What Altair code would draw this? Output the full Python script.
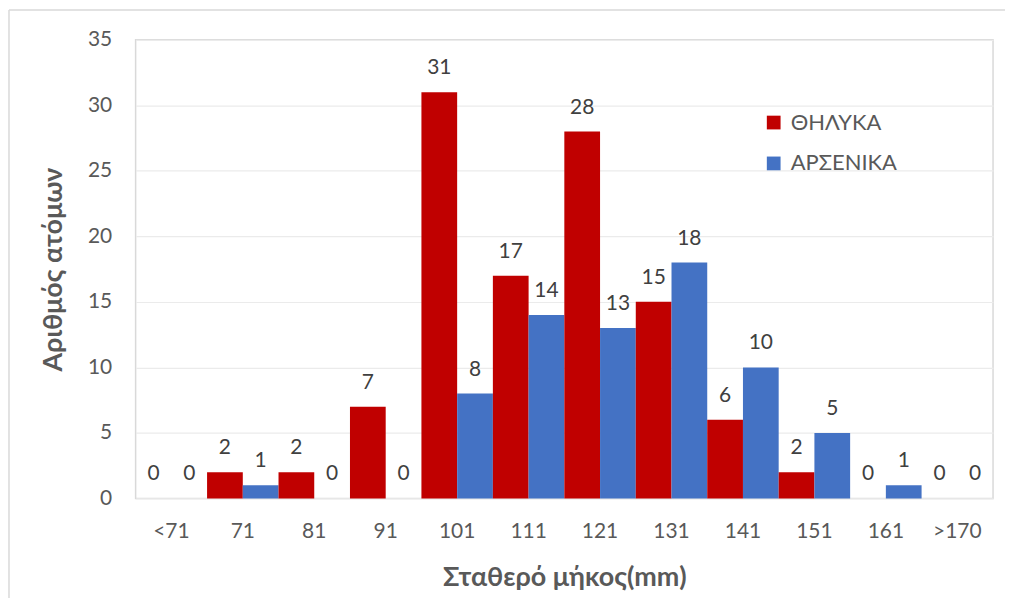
import altair as alt
import pandas as pd

categories = ["<71", "71", "81", "91", "101", "111", "121", "131", "141", "151", "161", ">170"]
female = [0, 2, 2, 7, 31, 17, 28, 15, 6, 2, 0, 0]
male = [0, 1, 0, 0, 8, 14, 13, 18, 10, 5, 1, 0]
series = ["ΘΗΛΥΚΑ", "ΑΡΣΕΝΙΚΑ"]
colors = ["#C00000", "#4472C4"]

rows = []
for c, f, m in zip(categories, female, male):
    rows.append({"cat": c, "sex": series[0], "n": f})
    rows.append({"cat": c, "sex": series[1], "n": m})
df = pd.DataFrame(rows)

FONT = "Lato, Noto Sans"
W, H = 860, 460

x = alt.X("cat:N", sort=categories,
          scale=alt.Scale(paddingInner=0, paddingOuter=0),
          axis=alt.Axis(title="Σταθερό μήκος(mm)", labelAngle=0, ticks=False,
                        labelPadding=22, titlePadding=23, domain=False))
xo = alt.XOffset("sex:N", sort=series, scale=alt.Scale(paddingInner=0, paddingOuter=0))
y = alt.Y("n:Q", scale=alt.Scale(domain=[0, 35]),
          axis=alt.Axis(title="Αριθμός ατόμων", values=list(range(0, 36, 5)), ticks=False,
                        labelPadding=24, titlePadding=20, domain=False))

bars = alt.Chart(df).mark_bar().encode(
    x=x, xOffset=xo, y=y,
    color=alt.Color("sex:N", sort=series, scale=alt.Scale(domain=series, range=colors),
                    legend=alt.Legend(title=None, orient="none", legendX=629, legendY=72,
                                      symbolType="square", symbolSize=190,
                                      symbolStrokeWidth=0, labelFontSize=22,
                                      labelColor="#595959", rowPadding=19,
                                      labelFont=FONT, labelOffset=6))
)

labels = alt.Chart(df).mark_text(baseline="bottom", dy=-14, fontSize=21, color="#404040", font=FONT).encode(
    x=alt.X("cat:N", sort=categories), xOffset=alt.XOffset("sex:N", sort=series), y="n:Q",
    text="n:Q"
)

# outer chart frame (top and left edges, as in the reference)
frame_df = pd.DataFrame({"k": [0]})
frame_top = alt.Chart(frame_df).mark_rule(color="#d9d9d9", strokeWidth=1.5).encode(
    x=alt.value(-127), x2=alt.value(W + 12), y=alt.value(-30)
)
frame_left = alt.Chart(frame_df).mark_rule(color="#d9d9d9", strokeWidth=1.5).encode(
    x=alt.value(-127), y=alt.value(-30), y2=alt.value(H + 100)
)

chart = (bars + labels + frame_top + frame_left).properties(
    width=W, height=H,
    padding={"left": 0, "top": 0, "right": 0, "bottom": 0}
).configure_view(stroke="#d9d9d9", strokeWidth=1.5).configure_axis(
    labelFont=FONT, titleFont=FONT, labelFontSize=21, titleFontSize=27,
    labelColor="#595959", titleColor="#595959", titleFontWeight="bold",
    gridColor="#ebebeb", gridWidth=1.2
)

chart.save("out.html", embed_options={"renderer": "svg", "actions": False})
